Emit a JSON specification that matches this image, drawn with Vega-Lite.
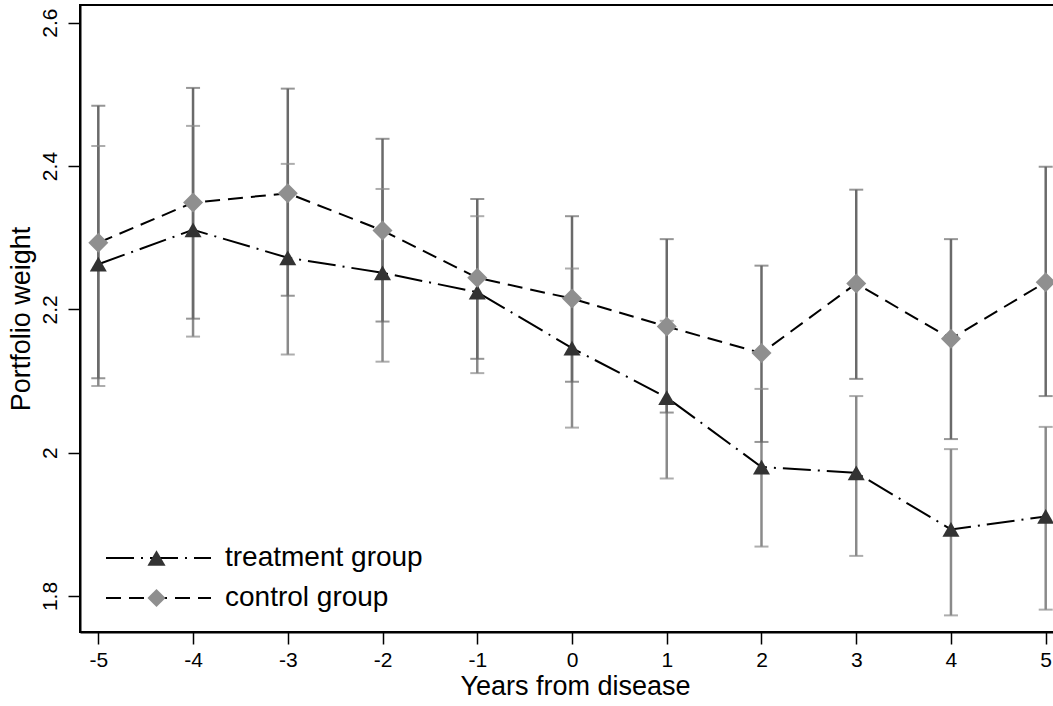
{
  "$schema": "https://vega.github.io/schema/vega-lite/v6.json",
  "width": 990,
  "height": 627,
  "autosize": {"type": "none"},
  "padding": {"left": 80, "top": 5, "right": 0, "bottom": 74},
  "background": "white",
  "config": {
    "font": "Liberation Sans",
    "view": {"stroke": "#000", "strokeWidth": 2},
    "axis": {
      "grid": false,
      "labelColor": "#000",
      "titleColor": "#000",
      "titleFontWeight": "normal",
      "tickColor": "#000",
      "tickWidth": 1.5,
      "tickSize": 12,
      "domainColor": "#000",
      "domainWidth": 2,
      "labelFontSize": 21,
      "titleFontSize": 27
    },
    "legend": {"labelColor": "#000"}
  },
  "resolve": {"scale": {"strokeDash": "independent"}, "legend": {"strokeDash": "independent"}},
  "data": {
    "values": [
      {"year": -5, "group": "treatment group", "w": 2.263, "lo": 2.093, "hi": 2.428},
      {"year": -4, "group": "treatment group", "w": 2.311, "lo": 2.162, "hi": 2.456},
      {"year": -3, "group": "treatment group", "w": 2.272, "lo": 2.137, "hi": 2.403},
      {"year": -2, "group": "treatment group", "w": 2.251, "lo": 2.127, "hi": 2.368},
      {"year": -1, "group": "treatment group", "w": 2.224, "lo": 2.111, "hi": 2.330},
      {"year": 0, "group": "treatment group", "w": 2.146, "lo": 2.035, "hi": 2.257},
      {"year": 1, "group": "treatment group", "w": 2.077, "lo": 1.964, "hi": 2.184},
      {"year": 2, "group": "treatment group", "w": 1.980, "lo": 1.869, "hi": 2.089},
      {"year": 3, "group": "treatment group", "w": 1.972, "lo": 1.856, "hi": 2.079},
      {"year": 4, "group": "treatment group", "w": 1.893, "lo": 1.773, "hi": 2.005},
      {"year": 5, "group": "treatment group", "w": 1.911, "lo": 1.781, "hi": 2.036},
      {"year": -5, "group": "control group", "w": 2.293, "lo": 2.104, "hi": 2.484},
      {"year": -4, "group": "control group", "w": 2.349, "lo": 2.187, "hi": 2.509},
      {"year": -3, "group": "control group", "w": 2.362, "lo": 2.219, "hi": 2.508},
      {"year": -2, "group": "control group", "w": 2.310, "lo": 2.183, "hi": 2.438},
      {"year": -1, "group": "control group", "w": 2.244, "lo": 2.131, "hi": 2.354},
      {"year": 0, "group": "control group", "w": 2.215, "lo": 2.099, "hi": 2.330},
      {"year": 1, "group": "control group", "w": 2.176, "lo": 2.056, "hi": 2.298},
      {"year": 2, "group": "control group", "w": 2.139, "lo": 2.015, "hi": 2.261},
      {"year": 3, "group": "control group", "w": 2.236, "lo": 2.103, "hi": 2.367},
      {"year": 4, "group": "control group", "w": 2.159, "lo": 2.019, "hi": 2.298},
      {"year": 5, "group": "control group", "w": 2.238, "lo": 2.079, "hi": 2.399}
    ]
  },
  "encoding": {
    "x": {
      "field": "year",
      "type": "quantitative",
      "scale": {"domain": [-5.1932, 5.2564], "nice": false, "zero": false},
      "axis": {
        "values": [-5, -4, -3, -2, -1, 0, 1, 2, 3, 4, 5],
        "labelExpr": "'' + datum.value",
        "labelPadding": 5,
        "title": "Years from disease",
        "titlePadding": 3
      }
    }
  },
  "layer": [
    {
      "mark": {"type": "rule", "strokeWidth": 2.5},
      "encoding": {
        "y": {
          "field": "lo",
          "type": "quantitative",
          "scale": {"domain": [1.7498, 2.6247], "nice": false, "zero": false},
          "axis": {
            "values": [1.8, 2, 2.2, 2.4, 2.6],
            "labelExpr": "'' + datum.value",
            "labelAngle": -90,
            "labelAlign": "center",
            "labelBaseline": "bottom",
            "labelPadding": 8,
            "title": "Portfolio weight",
            "titlePadding": 4
          }
        },
        "y2": {"field": "hi"},
        "color": {
          "field": "group",
          "type": "nominal",
          "scale": {"domain": ["treatment group", "control group"], "range": ["#8a8a8a", "#6a6a6a"]},
          "legend": null
        }
      }
    },
    {
      "mark": {"type": "tick", "orient": "horizontal", "size": 14, "thickness": 2},
      "encoding": {
        "y": {
          "field": "lo",
          "type": "quantitative",
          "scale": {"domain": [1.7498, 2.6247], "nice": false, "zero": false},
          "axis": {
            "values": [1.8, 2, 2.2, 2.4, 2.6],
            "labelExpr": "'' + datum.value",
            "labelAngle": -90,
            "labelAlign": "center",
            "labelBaseline": "bottom",
            "labelPadding": 8,
            "title": "Portfolio weight",
            "titlePadding": 4
          }
        },
        "color": {
          "field": "group",
          "type": "nominal",
          "scale": {"domain": ["treatment group", "control group"], "range": ["#8a8a8a", "#6a6a6a"]},
          "legend": null
        }
      }
    },
    {
      "mark": {"type": "tick", "orient": "horizontal", "size": 14, "thickness": 2},
      "encoding": {
        "y": {
          "field": "hi",
          "type": "quantitative",
          "scale": {"domain": [1.7498, 2.6247], "nice": false, "zero": false},
          "axis": {
            "values": [1.8, 2, 2.2, 2.4, 2.6],
            "labelExpr": "'' + datum.value",
            "labelAngle": -90,
            "labelAlign": "center",
            "labelBaseline": "bottom",
            "labelPadding": 8,
            "title": "Portfolio weight",
            "titlePadding": 4
          }
        },
        "color": {
          "field": "group",
          "type": "nominal",
          "scale": {"domain": ["treatment group", "control group"], "range": ["#8a8a8a", "#6a6a6a"]},
          "legend": null
        }
      }
    },
    {
      "mark": {"type": "line", "color": "#000", "strokeWidth": 2},
      "encoding": {
        "y": {
          "field": "w",
          "type": "quantitative",
          "scale": {"domain": [1.7498, 2.6247], "nice": false, "zero": false},
          "axis": {
            "values": [1.8, 2, 2.2, 2.4, 2.6],
            "labelExpr": "'' + datum.value",
            "labelAngle": -90,
            "labelAlign": "center",
            "labelBaseline": "bottom",
            "labelPadding": 8,
            "title": "Portfolio weight",
            "titlePadding": 4
          }
        },
        "strokeDash": {
          "field": "group",
          "type": "nominal",
          "scale": {"domain": ["treatment group", "control group"], "range": [[28, 7, 2, 7], [15, 8]]},
          "legend": {
            "orient": "none",
            "legendX": 25,
            "legendY": 533,
            "title": null,
            "symbolType": "stroke",
            "symbolSize": 11025,
            "symbolStrokeWidth": 2,
            "symbolStrokeColor": "#000",
            "labelFontSize": 28,
            "labelLimit": 400,
            "labelOffset": 13,
            "clipHeight": 40,
            "rowPadding": 0,
            "padding": 0,
            "zindex": 1
          }
        }
      }
    },
    {
      "mark": {"type": "point", "filled": true, "opacity": 1, "strokeWidth": 0},
      "encoding": {
        "y": {
          "field": "w",
          "type": "quantitative",
          "scale": {"domain": [1.7498, 2.6247], "nice": false, "zero": false},
          "axis": {
            "values": [1.8, 2, 2.2, 2.4, 2.6],
            "labelExpr": "'' + datum.value",
            "labelAngle": -90,
            "labelAlign": "center",
            "labelBaseline": "bottom",
            "labelPadding": 8,
            "title": "Portfolio weight",
            "titlePadding": 4
          }
        },
        "shape": {
          "field": "group",
          "type": "nominal",
          "sort": null,
          "scale": {"range": ["triangle-up", "diamond"]},
          "legend": {
            "orient": "none",
            "legendX": 67,
            "legendY": 533,
            "title": null,
            "symbolSize": 330,
            "symbolStrokeWidth": 0,
            "symbolOpacity": 1,
            "labelFontSize": 1,
            "labelOpacity": 0,
            "clipHeight": 40,
            "rowPadding": 0,
            "padding": 0,
            "zindex": 2
          }
        },
        "fill": {
          "field": "group",
          "type": "nominal",
          "sort": null,
          "scale": {"range": ["#333333", "#8f8f8f"]},
          "legend": {
            "orient": "none",
            "legendX": 67,
            "legendY": 533,
            "title": null,
            "symbolSize": 330,
            "symbolStrokeWidth": 0,
            "symbolOpacity": 1,
            "labelFontSize": 1,
            "labelOpacity": 0,
            "clipHeight": 40,
            "rowPadding": 0,
            "padding": 0,
            "zindex": 2
          }
        },
        "size": {
          "field": "group",
          "type": "nominal",
          "scale": {"domain": ["treatment group", "control group"], "range": [290, 400]},
          "legend": null
        }
      }
    }
  ]
}
